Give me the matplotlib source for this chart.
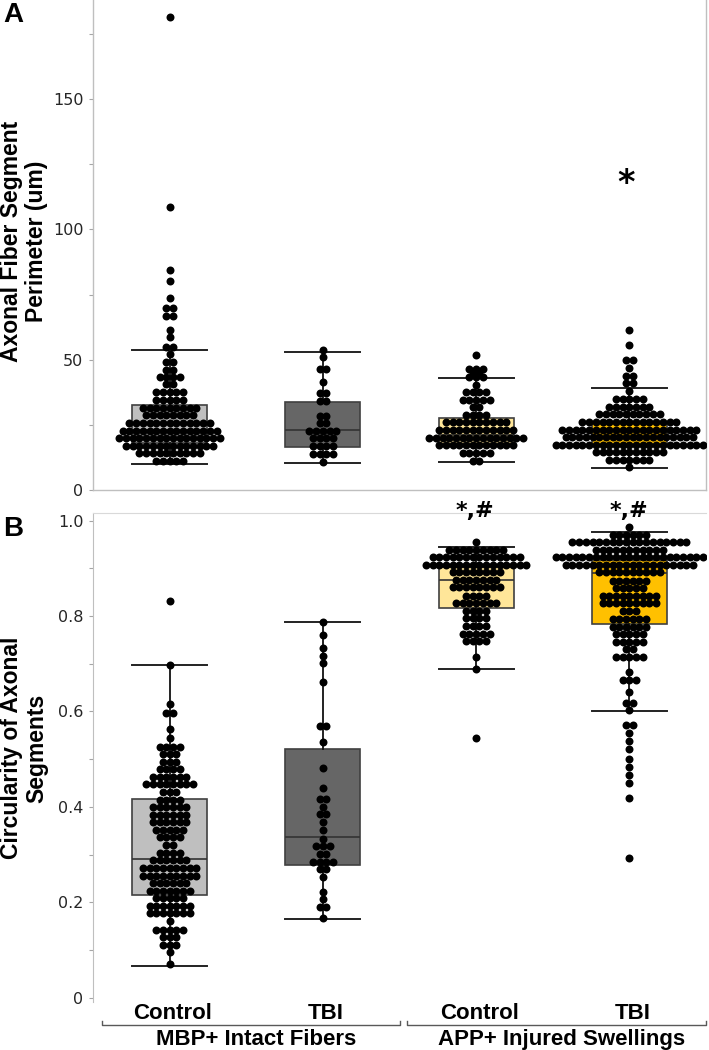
import numpy as np
import matplotlib
matplotlib.use("Agg")
import matplotlib.pyplot as plt
from matplotlib.transforms import blended_transform_factory
from matplotlib.lines import Line2D

W, H, DPI = 709, 1050, 100
plt.rcParams['font.family'] = ['Liberation Sans', 'DejaVu Sans']

categories = ["Control", "TBI", "Control", "TBI"]
category_groups = ["MBP+ Intact Fibers", "APP+ Injured Swellings"]
box_colors = ["#BFBFBF", "#666666", "#FFE699", "#FFC000"]

# ---------------- Panel A: perimeter (um), binned dot rows ----------------
perim_mbp_control_vals = [181.3, 108.4, 84.4, 80.0, 73.6, 69.7, 66.9, 61.5, 58.6, 55.0, 52.2,
                          49.2, 46.2, 43.3, 40.5, 37.6, 34.6, 31.6, 28.8, 25.7, 22.7, 19.8,
                          17.0, 14.1, 11.1]
perim_mbp_control_counts = [1, 1, 1, 1, 1, 2, 2, 1, 1, 2, 1, 2, 2, 4, 2, 5, 5, 9, 8, 13, 15, 16,
                            14, 10, 5]
perim_mbp_tbi_vals = [53.7, 50.9, 46.4, 41.5, 37.1, 34.3, 28.5, 25.6, 22.7, 19.8, 17.0, 13.8, 10.6]
perim_mbp_tbi_counts = [1, 1, 2, 1, 2, 2, 2, 2, 5, 4, 4, 4, 1]
perim_app_control_vals = [51.9, 46.4, 44.8, 43.5, 40.4, 37.5, 34.6, 31.7, 28.9, 26.0, 23.0, 20.1,
                          17.3, 14.3, 11.2]
perim_app_control_counts = [1, 3, 2, 3, 1, 4, 5, 2, 4, 10, 12, 15, 12, 5, 2]
perim_app_tbi_vals = [61.4, 55.7, 49.9, 46.9, 43.9, 40.9, 37.9, 34.9, 32.0, 29.0, 26.2, 23.1,
                      20.3, 17.4, 14.5, 11.5, 8.7]
perim_app_tbi_counts = [1, 1, 2, 1, 2, 2, 1, 5, 7, 10, 15, 21, 20, 23, 11, 7, 1]

perim_q1 = [18.0, 16.6, 17.5, 17.3]
perim_median = [23.0, 23.0, 21.0, 20.5]
perim_q3 = [32.7, 33.8, 27.6, 25.9]
perim_whislo = [10.0, 10.2, 10.9, 8.3]
perim_whishi = [53.7, 53.1, 42.8, 39.1]

# ---------------- Panel B: circularity, binned dot rows ----------------
circ_mbp_control_vals = [0.8306, 0.6978, 0.6153, 0.5977, 0.5629, 0.5440, 0.5263, 0.5110, 0.4949,
                         0.4795, 0.4634, 0.4474, 0.4313, 0.4151, 0.3992, 0.3836, 0.3677, 0.3515,
                         0.3362, 0.3194, 0.3039, 0.2886, 0.2711, 0.2556, 0.2397, 0.2241, 0.2082,
                         0.1920, 0.1767, 0.1612, 0.1417, 0.1263, 0.1108, 0.0949, 0.0703]
circ_mbp_control_counts = [1, 1, 1, 2, 1, 1, 4, 3, 3, 4, 6, 8, 3, 4, 6, 6, 6, 5, 4, 2, 4, 6, 9, 9,
                           6, 7, 5, 7, 7, 1, 5, 3, 3, 1, 1]
circ_mbp_tbi_vals = [0.787, 0.761, 0.733, 0.717, 0.701, 0.661, 0.570, 0.535, 0.482, 0.439, 0.4166,
                     0.4005, 0.3845, 0.369, 0.3515, 0.333, 0.318, 0.301, 0.285, 0.270, 0.2535,
                     0.222, 0.206, 0.1906, 0.1675]
circ_mbp_tbi_counts = [1, 1, 1, 1, 1, 1, 2, 1, 1, 1, 2, 1, 2, 1, 1, 1, 3, 2, 4, 2, 1, 1, 1, 2, 1]
circ_app_control_vals = [0.955, 0.939, 0.924, 0.908, 0.892, 0.876, 0.860, 0.843, 0.827, 0.811,
                         0.796, 0.780, 0.763, 0.7475, 0.714, 0.689, 0.544]
circ_app_control_counts = [1, 9, 14, 16, 8, 7, 8, 4, 7, 4, 4, 4, 5, 4, 1, 1, 1]
circ_app_tbi_vals = [0.987, 0.970, 0.9545, 0.939, 0.923, 0.907, 0.8915, 0.874, 0.859, 0.8426,
                     0.827, 0.811, 0.794, 0.778, 0.762, 0.746, 0.731, 0.7146, 0.6825, 0.665,
                     0.6405, 0.6187, 0.6027, 0.571, 0.5557, 0.539, 0.522, 0.501, 0.4844, 0.466,
                     0.4495, 0.418, 0.292]
circ_app_tbi_counts = [1, 6, 18, 11, 23, 20, 10, 6, 5, 9, 9, 3, 6, 6, 5, 5, 2, 5, 1, 3, 1, 2, 1,
                       2, 1, 1, 1, 1, 1, 1, 1, 1, 1]

circ_q1 = [0.215, 0.278, 0.816, 0.784]
circ_median = [0.291, 0.336, 0.876, 0.890]
circ_q3 = [0.416, 0.5215, 0.902, 0.918]
circ_whislo = [0.067, 0.1647, 0.689, 0.601]
circ_whishi = [0.698, 0.787, 0.945, 0.9755]

perim_ticks = [0, 25, 50, 75, 100, 125, 150, 175]
perim_ticklabels = ["0", "", "50", "", "100", "", "150", ""]
circ_ticks = [0, 0.1, 0.2, 0.3, 0.4, 0.5, 0.6, 0.7, 0.8, 0.9, 1.0]
circ_ticklabels = ["0", "", "0.2", "", "0.4", "", "0.6", "", "0.8", "", "1.0"]

# ---------------- figure ----------------
fig = plt.figure(figsize=(W / DPI, H / DPI), dpi=DPI)


def px_axes(left, top, right, bottom):
    return fig.add_axes([left / W, 1 - bottom / H, (right - left) / W, (bottom - top) / H])


axA = px_axes(93, 0, 706, 490)
axB = px_axes(93, 513, 706, 1002)

DX = 6.7 / 153.25      # horizontal dot spacing (data units)
DOT_S = 33             # dot area (pt^2)


def draw_panel(ax, rows, q1, med, q3, lo, hi):
    stats = [dict(q1=a, med=b, q3=c, whislo=d, whishi=e, label="")
             for a, b, c, d, e in zip(q1, med, q3, lo, hi)]
    bp = ax.bxp(stats, positions=range(len(stats)), widths=0.49, capwidths=0.49,
                showfliers=False, patch_artist=True, manage_ticks=False,
                boxprops=dict(edgecolor="#404040", linewidth=1.2),
                medianprops=dict(color="#333333", linewidth=1.2),
                whiskerprops=dict(color="#111111", linewidth=1.3),
                capprops=dict(color="#222222", linewidth=1.4), zorder=2)
    for patch, col in zip(bp["boxes"], box_colors):
        patch.set_facecolor(col)
    xs, ys = [], []
    for i, (vals, counts) in enumerate(rows):
        for v, n in zip(vals, counts):
            offs = (np.arange(n) - (n - 1) / 2.0) * DX
            xs.extend(i + offs)
            ys.extend([v] * n)
    ax.scatter(xs, ys, s=DOT_S, c="black", linewidths=0, zorder=3)
    ax.set_xlim(-0.5, 3.5)


draw_panel(axA,
           [(perim_mbp_control_vals, perim_mbp_control_counts),
            (perim_mbp_tbi_vals, perim_mbp_tbi_counts),
            (perim_app_control_vals, perim_app_control_counts),
            (perim_app_tbi_vals, perim_app_tbi_counts)],
           perim_q1, perim_median, perim_q3, perim_whislo, perim_whishi)
draw_panel(axB,
           [(circ_mbp_control_vals, circ_mbp_control_counts),
            (circ_mbp_tbi_vals, circ_mbp_tbi_counts),
            (circ_app_control_vals, circ_app_control_counts),
            (circ_app_tbi_vals, circ_app_tbi_counts)],
           circ_q1, circ_median, circ_q3, circ_whislo, circ_whishi)

axA.set_ylim(0, 188)
axB.set_ylim(-0.009, 1.016)

for ax, ticks, labels in [(axA, perim_ticks, perim_ticklabels), (axB, circ_ticks, circ_ticklabels)]:
    ax.set_yticks(ticks)
    ax.set_yticklabels(labels, fontfamily="DejaVu Sans", fontsize=11.5, color="#262626")
    ax.tick_params(axis="y", direction="out", length=3, width=0.8, color="#A6A6A6", pad=4)
    ax.set_xticks([])
    ax.patch.set_alpha(0)

axA.spines["top"].set_visible(False)
for s in ["left", "bottom", "right"]:
    axA.spines[s].set_color("#BFBFBF")
    axA.spines[s].set_linewidth(1.0)
axB.spines["bottom"].set_visible(False)
axB.spines["right"].set_visible(False)
axB.spines["left"].set_color("#BFBFBF")
axB.spines["top"].set_color("#D9D9D9")

# y labels
fig.text(24 / W, 1 - 241 / H, "Axonal Fiber Segment\nPerimeter (um)", rotation=90,
         ha="center", va="center", fontsize=16.5, fontweight="bold", linespacing=1.1,
         multialignment="center")
fig.text(24 / W, 1 - 748 / H, "Circularity of Axonal\nSegments", rotation=90,
         ha="center", va="center", fontsize=16.5, fontweight="bold", linespacing=1.1,
         multialignment="center")

# panel letters
fig.text(13 / W, 1 - 15 / H, "A", ha="center", va="center", fontsize=20, fontweight="bold")
fig.text(13.5 / W, 1 - 529 / H, "B", ha="center", va="center", fontsize=20, fontweight="bold")

# category labels
trB = blended_transform_factory(axB.transData, fig.transFigure)
for i, lab in enumerate(categories):
    axB.text(i + 0.02, 1 - 1019.3 / H, lab, transform=trB, ha="center", va="baseline",
             fontsize=16, fontweight="bold", clip_on=False)
for lab, xc in zip(category_groups, [255.7, 562.0]):
    fig.text(xc / W, 1 - 1044.6 / H, lab, ha="center", va="baseline", fontsize=16,
             fontweight="bold")

# group brackets
for x0, x1 in [(102, 400), (407, 706)]:
    yb = 1025.3
    fig.add_artist(Line2D([x0 / W, x0 / W, x1 / W, x1 / W],
                          [1 - (yb - 4) / H, 1 - yb / H, 1 - yb / H, 1 - (yb - 4) / H],
                          color="#595959", linewidth=1.0, transform=fig.transFigure))

# significance marks
trA = blended_transform_factory(axA.transData, fig.transFigure)
axA.text(3 - 0.02, 1 - 192.7 / H, "*", transform=trA, ha="center", va="baseline",
         fontsize=24, fontweight="bold", fontfamily="DejaVu Sans", clip_on=False)
for gx in [2, 3]:
    axB.text(gx - 0.005, 1 - 517 / H, "*,#", transform=trB, ha="center", va="baseline",
             fontsize=16, fontweight="bold", fontfamily="DejaVu Sans", clip_on=False, zorder=5)

fig.savefig("out.png", dpi=DPI)
